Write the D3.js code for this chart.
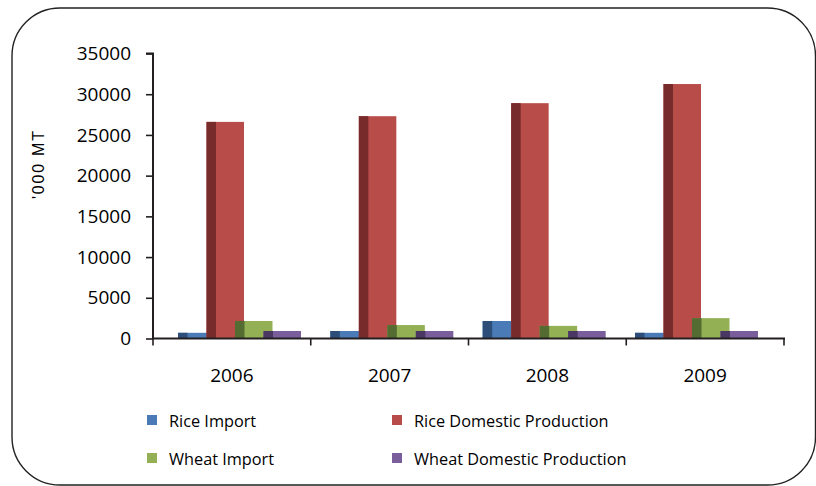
<!DOCTYPE html>
<html>
<head>
<meta charset="utf-8">
<script src="https://cdn.jsdelivr.net/npm/d3@7"></script>
<style>
  html, body { margin: 0; padding: 0; background: #fff; }
  svg { display: block; }
</style>
</head>
<body>
<svg id="chart" width="816" height="486"></svg>
<script>
// Annual figures, thousand metric tonnes
const years = ["2006", "2007", "2008", "2009"];
const seriesNames = ["Rice Import", "Rice Domestic Production", "Wheat Import", "Wheat Domestic Production"];
const riceImport = [700, 920, 2150, 700];
const riceDomestic = [26600, 27300, 28900, 31250];
const wheatImport = [2150, 1650, 1550, 2500];
const wheatDomestic = [920, 920, 920, 920];
const yTicks = [0, 5000, 10000, 15000, 20000, 25000, 30000, 35000];

const seriesValues = [riceImport, riceDomestic, wheatImport, wheatDomestic];
const faceColors = ["#4A7BB7", "#B84C49", "#93B055", "#7A5E9B"];
const sideColors = ["#2C4E78", "#772B2A", "#546B31", "#4A3763"];

const svg = d3.select("#chart");
const axisColor = "#231F20";
const font = "'Open Sans', 'Liberation Sans', sans-serif";

// Rounded frame around the chart area
svg.append("rect")
  .attr("x", 12).attr("y", 8)
  .attr("width", 803.5).attr("height", 477)
  .attr("rx", 48).attr("ry", 48)
  .attr("fill", "#fff")
  .attr("stroke", "#222").attr("stroke-width", 1.4);

const plot = { left: 153, right: 784, top: 53.5, bottom: 338.5 };

const y = d3.scaleLinear().domain([0, 35000]).range([plot.bottom, plot.top]);
const xAxisScale = d3.scaleBand().domain(years).range([plot.left, plot.right]);

// Column groups are drawn with a slight perspective shift relative to the axis bands
const xGroup = d3.scalePoint().domain(years).range([178, 635]);
const xSeries = d3.scalePoint().domain(seriesNames).range([0, 85.5]);
const barWidth = 37.5;
const sideWidth = 9.5;

// Y axis
const yAxis = d3.axisLeft(y).tickValues(yTicks).tickSize(7).tickPadding(15).tickFormat(d3.format("d"));
const gy = svg.append("g").attr("transform", `translate(${plot.left},0)`).call(yAxis);
gy.select(".domain").attr("stroke", axisColor).attr("stroke-width", 2)
  .attr("d", `M-7,${plot.top}H0V${plot.bottom}`);
gy.selectAll(".tick line").attr("stroke", axisColor).attr("stroke-width", 1.6);
gy.selectAll(".tick text").attr("fill", "#000").attr("font-family", font).attr("font-size", 19);

// Columns
const bars = [];
years.forEach((yr, i) => {
  seriesNames.forEach((s, j) => {
    bars.push({ year: yr, series: s, idx: j, value: seriesValues[j][i] });
  });
});

const barG = svg.append("g");
const bar = barG.selectAll("g.bar").data(bars).join("g").attr("class", "bar");
bar.append("rect")
  .attr("x", d => xGroup(d.year) + xSeries(d.series))
  .attr("y", d => y(d.value))
  .attr("width", barWidth)
  .attr("height", d => y(0) - y(d.value))
  .attr("fill", d => faceColors[d.idx]);
bar.append("rect")
  .attr("x", d => xGroup(d.year) + xSeries(d.series))
  .attr("y", d => y(d.value))
  .attr("width", sideWidth)
  .attr("height", d => y(0) - y(d.value))
  .attr("fill", d => sideColors[d.idx]);

// X axis with ticks at band boundaries
const gx = svg.append("g").attr("transform", `translate(0,${plot.bottom})`);
gx.append("line")
  .attr("x1", plot.left - 1).attr("x2", plot.right + 1)
  .attr("stroke", axisColor).attr("stroke-width", 2);
const boundaries = years.map(yr => xAxisScale(yr)).concat([plot.right]);
gx.selectAll("line.tick").data(boundaries).join("line")
  .attr("class", "tick")
  .attr("x1", d => d).attr("x2", d => d)
  .attr("y1", 0).attr("y2", 7)
  .attr("stroke", axisColor).attr("stroke-width", 1.6);
gx.selectAll("text").data(years).join("text")
  .attr("x", d => xAxisScale(d) + xAxisScale.bandwidth() / 2)
  .attr("y", 43.5)
  .attr("text-anchor", "middle")
  .attr("font-family", font).attr("font-size", 19)
  .attr("fill", "#000")
  .text(d => d);

// Y axis title
svg.append("text")
  .attr("transform", "translate(44,165) rotate(-90)")
  .attr("text-anchor", "middle")
  .attr("font-family", "'Liberation Sans', Arial, sans-serif")
  .attr("font-size", 16)
  .attr("textLength", 68)
  .attr("lengthAdjust", "spacing")
  .attr("fill", "#000")
  .text("'000 MT");

// Legend, two columns by two rows
const legendPos = [
  { x: 147, y: 415 }, { x: 392, y: 415 },
  { x: 147, y: 453 }, { x: 392, y: 453 }
];
const leg = svg.append("g").selectAll("g").data(seriesNames).join("g")
  .attr("transform", (d, i) => `translate(${legendPos[i].x},${legendPos[i].y})`);
leg.append("rect").attr("width", 10).attr("height", 10)
  .attr("fill", (d, i) => faceColors[i]);
leg.append("text")
  .attr("x", 22).attr("y", 12)
  .attr("font-family", font).attr("font-size", 16.3)
  .attr("fill", "#000")
  .text(d => d);
</script>
</body>
</html>
